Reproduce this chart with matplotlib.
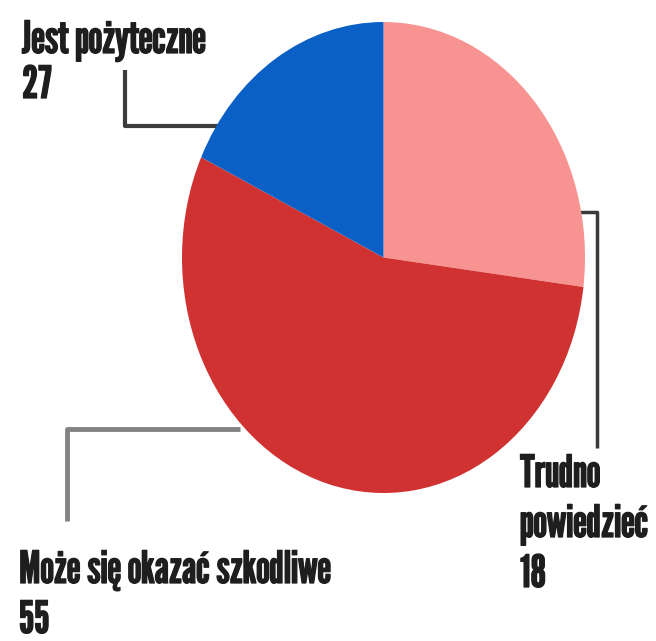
import numpy as np
import matplotlib
matplotlib.use("Agg")
import matplotlib.pyplot as plt
import matplotlib.patheffects as pe

# udzialy odpowiedzi (kolejnosc rysowania: od godziny 12, zgodnie z ruchem wskazowek)
udzialy = [27, 55, 18]
kolory = ["#F79491", "#D03231", "#0B60C6"]

# podpisy tak jak na rysunku
etykiety = ["Jest pożyteczne", "Trudno\npowiedzieć", "Może się okazać szkodliwe"]
wartosci = ["27", "18", "55"]

W, H = 656, 641
fig = plt.figure(figsize=(W / 100, H / 100), dpi=100)
fig.patch.set_facecolor("white")

# warstwa z liniami i tekstem, w pikselach
ax0 = fig.add_axes([0, 0, 1, 1])
ax0.set_xlim(0, W)
ax0.set_ylim(H, 0)
ax0.axis("off")

# kolo (lekko wydluzone w pionie, jak w oryginale)
cx0, cy0, cx1, cy1 = 182, 22, 585, 493
ax = fig.add_axes([cx0 / W, 1 - cy1 / H, (cx1 - cx0) / W, (cy1 - cy0) / H])
ax.pie(udzialy, colors=kolory, startangle=90, counterclock=False,
       wedgeprops=dict(linewidth=0))
ax.set_aspect("auto")
ax.set_xlim(-1, 1)
ax.set_ylim(-1, 1)
ax.axis("off")

# linie odniesienia
ax0.plot([225, 125, 125], [126, 126, 70], color="#3c3c3c", lw=3, solid_capstyle="butt", zorder=1)
ax0.plot([580, 597, 597], [212, 212, 448], color="#3a3a3a", lw=2.5, solid_capstyle="butt", zorder=1)
ax0.plot([240, 67, 67], [429, 429, 521], color="#838383", lw=3.5, solid_capstyle="butt", zorder=1)

# pogrubienie konturem, zeby tekst byl ciezszy jak w oryginale
gruby = [pe.Stroke(linewidth=0.9, foreground="#1e1e1e"), pe.Normal()]
fnt = dict(family=["League Gothic", "Saira ExtraCondensed", "DejaVu Sans"], color="#1e1e1e",
           path_effects=gruby)
fs = 32

ax0.text(22, 53, etykiety[0], fontsize=fs, va="baseline", ha="left", **fnt)
ax0.text(22, 98, wartosci[0], fontsize=fs, va="baseline", ha="left", **fnt)

linie = etykiety[1].split("\n")
ax0.text(520, 487, linie[0], fontsize=fs, va="baseline", ha="left", **fnt)
ax0.text(520, 537, linie[1], fontsize=fs, va="baseline", ha="left", **fnt)
ax0.text(520, 587, wartosci[1], fontsize=fs, va="baseline", ha="left", **fnt)

ax0.text(19, 583, etykiety[2], fontsize=fs, va="baseline", ha="left", **fnt)
ax0.text(19, 633, wartosci[2], fontsize=fs, va="baseline", ha="left", **fnt)

fig.savefig("out.png", dpi=100, facecolor="white")
